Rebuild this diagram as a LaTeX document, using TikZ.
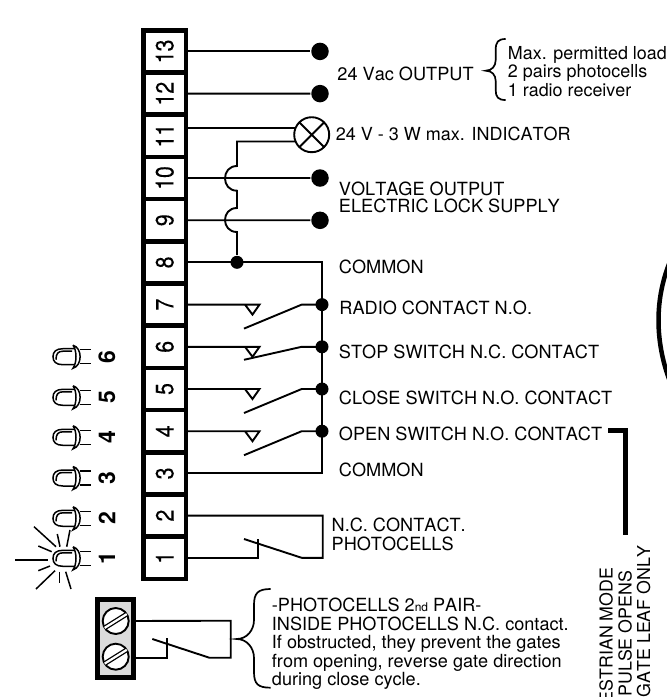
\documentclass[tikz,border=0pt]{standalone}
\usepackage{fontspec}
\setmainfont[Kerning=Off]{TeX Gyre Heros}
\newfontfamily\cellfont[FakeBold=0.2]{TeX Gyre Heros}

\begin{document}
\begin{tikzpicture}[x=1pt,y=-1pt,line width=1.9pt,line join=miter]
    \tikzstyle{cell}=[rectangle,draw,line width=4.5pt,minimum width=42.5pt,minimum height=42.2pt,inner sep=0pt,outer sep=0pt]
    \tikzstyle{cellnum}=[rotate=90,font=\cellfont\fontsize{25}{25}\selectfont,inner sep=0pt]
    \tikzstyle{bigdot}=[circle,fill=black,minimum size=17.5pt,inner sep=0pt]
    \tikzstyle{smalldot}=[circle,fill=black,minimum size=13pt,inner sep=0pt]
    \tikzstyle{lamp}=[circle,draw,minimum size=35pt,inner sep=0pt,outer sep=0pt]
    \tikzstyle{screw}=[circle,draw,fill=white,minimum size=26pt,inner sep=0pt,outer sep=0pt]
    \tikzstyle{annot}=[anchor=base west,inner sep=0pt,font=\fontsize{18.15}{18.15}\selectfont]
    \tikzstyle{block}=[anchor=north west,align=left,inner sep=0pt,font=\fontsize{18.1}{18.5}\selectfont]
    \tikzstyle{vannot}=[anchor=base east,rotate=90,inner sep=0pt,font=\fontsize{17.8}{17.8}\selectfont]
    \tikzstyle{lednum}=[rotate=90,inner sep=0pt,font=\fontsize{23}{23}\selectfont\bfseries]
    \tikzstyle{ledline}=[line width=1.5pt]
    \tikzstyle{ray}=[line width=1.5pt]
    \tikzstyle{brace}=[line width=1.7pt]

    \clip (0,0) rectangle (667,697);

    % Draw the terminal board
    \foreach \name in {1,...,13}
        \node[cell] (T-\name) at (164.75,{51.4+42.2*(13-\name)}) {};
    \foreach \name in {1,...,13}
        \node[cellnum] (N-\name) at (T-\name) {\scalebox{.85}[1]{\name}};

    % Draw the outputs on the top terminals
    \foreach \name / \y in {13/51.4,12/93.6,10/178,9/220.3}
        \node[bigdot] (D-\name) at (320,\y) {};
    \foreach \name in {13,12,10,9}
        \draw (T-\name.east) -- (D-\name);

    % Draw the indicator lamp
    \node[lamp] (lamp) at (311.7,134.7) {};
    \draw (lamp.45) -- (lamp.225);
    \draw (lamp.135) -- (lamp.-45);
    \draw (T-11.east |- lamp.157) -- (lamp.157);

    % The lamp return hops over terminals 10 and 9
    \node[smalldot] (C-8) at (237,262.3) {};
    \draw (lamp.203) -| (237,166) .. controls (221,166) and (221,190.7) .. (237,190.7)
        -- (237,208) .. controls (221,208) and (221,232) .. (237,232) -- (C-8);

    % Draw the common rail
    \foreach \name / \y in {7/304.6,6/346.8,5/389,4/431.2}
        \node[smalldot] (D-\name) at (322,\y) {};
    \draw (T-8.east) -| (D-7.center) -- (D-4.center) |- (T-3.east);

    % Draw the contacts between the terminals and the rail
    \foreach \name / \drop in {7/24,6/13,5/24,4/24} {
        \draw (T-\name.east) -- ++(73.5,0) -- ++(-7,10) -- ++(-7.5,-10);
        \draw (D-\name.center) -- ++(-20.3,0) -- ++(-57.7,\drop);
    }

    % Draw the photocell contact
    \coordinate (K-1) at (258.3,539);
    \draw (T-2.east) -| (322.7,557.8) -- (301.7,557.8) -- (244,539);
    \draw (T-1.east) -| (K-1);

    % Draw the LEDs
    \foreach \name / \y in {6/356.7,5/397.3,4/437.3,3/478,2/518.3,1/558.3} {
        \draw[ledline] (80,\y-7) -- (91,\y-7);
        \draw[ledline] (80,\y+7) -- (91,\y+7);
        \draw[ledline] (74,\y-8) -- (63,\y-8) .. controls (56,\y-8) and (53,\y-5) .. (53,\y)
            .. controls (53,\y+5) and (56,\y+8) .. (63,\y+8) -- (74,\y+8);
        \draw[ledline] (72,\y-5.5) -- (63,\y-5.5) .. controls (58,\y-5.5) and (56,\y-3) .. (56,\y+3);
        \draw[ledline] (73,\y-11.5) .. controls (82.5,\y-9) and (82.5,\y+9) .. (73,\y+11.5)
            .. controls (77,\y+6) and (77,\y-6) .. (73,\y-11.5);
        \node[lednum] (L-\name) at (107,\y) {\name};
    }

    % Rays of the lit LED
    \foreach \a / \b / \c / \d in {15/560/48.3/560,34/526.7/56/546.7,38.3/546/51.7/551.7,57.3/534/60/546.7,
        70/530/66.7/546.7,38.3/570.7/50/566,36/589/55/570.7,59.3/571.7/59.3/583,65.7/571.7/71/589}
        \draw[ray] (\a,\b) -- (\c,\d);

    % Draw the second pair terminal block
    \node[rectangle,draw,fill=black!14,line width=5pt,minimum width=36pt,minimum height=78.3pt,inner sep=0pt,outer sep=0pt] (B) at (115.2,638.4) {};
    \foreach \name / \y in {1/621,2/656.7} {
        \node[screw] (S-\name) at (115.7,\y) {};
        \draw[line width=1.3pt,double,double distance=2.2pt] (S-\name.212) -- (S-\name.32);
    }
    \coordinate (K-2) at (167.3,638);
    \draw (B.east |- S-1) -- (230.7,620.7) |- (209.3,657.7) -- (152.3,639);
    \draw (B.east |- 0,657.7) -| (K-2);

    % Braces
    \draw[brace] (505.7,39) .. controls (498,39) and (495.7,42) .. (495.7,50) -- (495.7,60)
        .. controls (495.7,66) and (492,70.7) .. (485.7,70.7) .. controls (492,70.7) and (495.7,75) .. (495.7,81)
        -- (495.7,90) .. controls (495.7,97) and (498,100) .. (505.7,100);
    \draw[brace] (270.7,589) .. controls (258,589) and (254,593) .. (254,605) -- (254,620)
        .. controls (254,630) and (247,639) .. (236.7,639) .. controls (247,639) and (254,648) .. (254,658)
        -- (254,672) .. controls (254,684) and (258,687.7) .. (270.7,687.7);

    % Annotate the outputs
    \node[annot] (a-out) at (336.5,80) {24 Vac OUTPUT};
    \node[block,font=\fontsize{17.9}{18.5}\selectfont] (a-load) at (507,45.3) {Max. permitted load\\2 pairs photocells\\1 radio receiver};
    \node[annot,font=\fontsize{18}{18}\selectfont] (a-ind) at (335,140) {24 V - 3 W max. INDICATOR};
    \node[annot] (a-volt) at (338,195) {VOLTAGE OUTPUT};
    \node[annot] (a-lock) at (338,212.7) {ELECTRIC LOCK SUPPLY};
    \node[annot] (a-com) at (338,273.3) {COMMON};
    \node[annot] (a-radio) at (338.5,314) {RADIO CONTACT N.O.};
    \node[annot] (a-stop) at (338,358) {STOP SWITCH N.C. CONTACT};
    \node[annot] (a-close) at (338,404) {CLOSE SWITCH N.O. CONTACT};
    \node[annot] (a-open) at (338,440) {OPEN SWITCH N.O. CONTACT};
    \node[annot] (a-com2) at (338,476) {COMMON};
    \node[annot] (a-nc) at (330.7,531.7) {N.C. CONTACT.};
    \node[annot] (a-ph) at (330.7,550) {PHOTOCELLS};
    \node[block] (a-pair) at (271,597.5) {-PHOTOCELLS 2{\fontsize{12}{12}\selectfont nd} PAIR-\\INSIDE PHOTOCELLS N.C. contact.\\If obstructed, they prevent the gates\\from opening, reverse gate direction\\during close cycle.};

    % Annotate the pedestrian input
    \coordinate (R-1) at (608,430);
    \coordinate (R-2) at (625,535);
    \draw[line width=5pt] (R-1) -| (R-2);
    \node[vannot] (v-1) at (612.7,566.7) {ESTRIAN MODE};
    \node[vannot] (v-2) at (631.7,570) {PULSE OPENS};
    \node[vannot] (v-3) at (650,545) {GATE LEAF ONLY};

    % The edge of the next part
    \draw[line width=4.5pt] (669,264) .. controls (655,300) and (655,340) .. (669,379);
\end{tikzpicture}
\end{document}
